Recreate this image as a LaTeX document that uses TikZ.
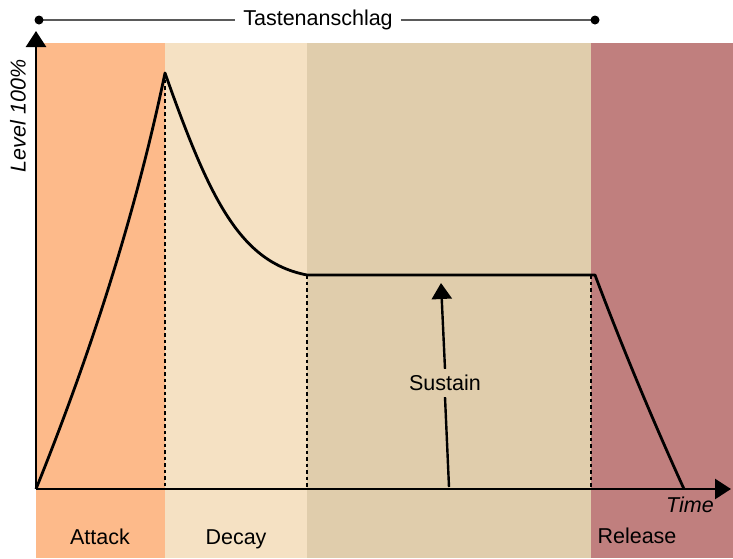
\documentclass[tikz,border=0pt]{standalone}
\usepackage{fontspec}
\setmainfont{Liberation Sans}
\usetikzlibrary{arrows.meta}
\definecolor{cattack}{RGB}{253,186,138}
\definecolor{cdecay}{RGB}{245,225,195}
\definecolor{csustain}{RGB}{224,205,172}
\definecolor{crelease}{RGB}{192,127,126}
\definecolor{cgray}{RGB}{90,90,90}
\begin{document}
\begin{tikzpicture}[x=1pt,y=-1pt,
  curve/.style={line width=2.8pt,line join=round},
  axis/.style={line width=2.6pt,-{Triangle[length=16pt,width=20pt]}},
  dotline/.style={line width=2.8pt,dash pattern=on 3.5pt off 3pt},
  lbl/.style={font=\fontsize{21.5}{24}\selectfont,inner sep=2pt}]
\useasboundingbox (0,0) rectangle (733,558);
\fill[white] (0,0) rectangle (733,558);
% bands
\fill[cattack] (36,43) rectangle (165,558);
\fill[cdecay] (165,43) rectangle (307,558);
\fill[csustain] (307,43) rectangle (591,558);
\fill[crelease] (591,43) rectangle (733,558);
% coordinates
\coordinate (o) at (36,489);
\coordinate (peak) at (165,73);
\coordinate (s1) at (307,275);
\coordinate (s2) at (595,275);
\coordinate (rend) at (684,489);
\coordinate (ytip) at (36,31);
\coordinate (xtip) at (731,489);
\coordinate (d1b) at (165,489);
\coordinate (d2b) at (307,489);
\coordinate (d3t) at (591,275);
\coordinate (d3b) at (591,489);
\coordinate (tl) at (39,20);
\coordinate (tr) at (595,20);
\coordinate (sb) at (449,487);
\coordinate (st) at (441,283);
% top line
\node[lbl,fill=white,inner xsep=8pt] (tasten) at (318,20) {Tastenanschlag};
\draw[cgray,line width=1.6pt] (tl) -- (tasten.west);
\draw[cgray,line width=1.6pt] (tasten.east) -- (tr);
\fill[black] (tl) circle (4.5pt);
\fill[black] (tr) circle (4.5pt);
% dotted verticals
\draw[dotline] (peak) -- (d1b);
\draw[dotline] (s1) -- (d2b);
\draw[dotline] (d3t) -- (d3b);
% envelope
\draw[curve] (o) .. controls (92,350) and (136,212) .. (peak)
  .. controls (210,200) and (240,262) .. (s1) -- (s2)
  .. controls (618,336) and (648,410) .. (rend);
% sustain arrow
\node[lbl,fill=csustain,inner ysep=6pt] (sus) at (445,383) {Sustain};
\draw[line width=2.4pt] (sb) -- (sus.south);
\draw[line width=2.4pt,-{Triangle[length=16pt,width=20pt]}] (sus.north) -- (st);
% axes
\draw[axis] (o) -- (ytip);
\draw[axis] (o) -- (xtip);
% labels
\node[lbl,font=\fontsize{21.5}{24}\selectfont\itshape,rotate=90] (level) at (18,116) {Level 100\%};
\node[lbl,font=\fontsize{21.5}{24}\selectfont\itshape,anchor=base] (time) at (690,512) {Time};
\node[lbl,anchor=base] (attack) at (100,544) {Attack};
\node[lbl,anchor=base] (decay) at (236,544) {Decay};
\node[lbl,anchor=base] (release) at (637,543) {Release};
\end{tikzpicture}
\end{document}
